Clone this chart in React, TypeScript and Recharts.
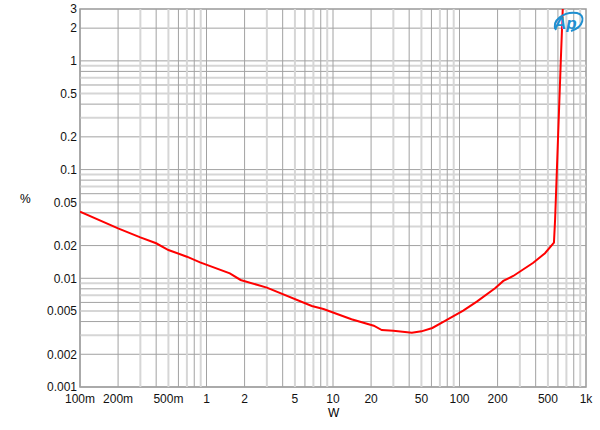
import { Line, LineChart, ReferenceArea, ReferenceLine, XAxis, YAxis } from "recharts";

// output power (W) vs THD+N (%)
const power = [
  0.1, 0.2, 0.3, 0.4, 0.5, 0.7, 0.89, 1.53, 1.86, 3, 6.8, 8.4, 14, 21, 24.3, 30, 42, 50, 61, 75, 107,
  137, 191, 222, 266, 383, 474, 558, 570, 632, 655,
];
const thd = [
  0.041, 0.0288, 0.0238, 0.021, 0.0182, 0.0158, 0.014, 0.0111, 0.00965, 0.0082, 0.00556, 0.00522,
  0.0042, 0.00366, 0.00334, 0.0033, 0.00316, 0.00325, 0.00349, 0.00399, 0.00504, 0.0061, 0.0081,
  0.00945, 0.0105, 0.0139, 0.017, 0.0213, 0.035, 1, 3,
];

const xTicks = [0.1, 0.2, 0.5, 1, 2, 5, 10, 20, 50, 100, 200, 500, 1000];
const yTicks = [0.001, 0.002, 0.005, 0.01, 0.02, 0.05, 0.1, 0.2, 0.5, 1, 2, 3];

const xDecades = [0.1, 1, 10, 100];
const yDecades = [0.001, 0.01, 0.1];
const multiples = [1, 2, 3, 4, 5, 6, 7, 8, 9];

const data = power.map((w, i) => ({ w, thd: thd[i] }));

const round = (v: number) => Number(v.toPrecision(3));
const xGrid = xDecades.flatMap((d) => multiples.map((m) => ({ v: round(d * m), m })));
const yGrid = [
  ...yDecades.flatMap((d) => multiples.map((m) => ({ v: round(d * m), m }))),
  { v: 1, m: 1 },
  { v: 2, m: 2 },
];

const dark = "#a2a2a2";
const light = "#d6d6d6";
const lineStyle = (m: number) =>
  m % 2 === 1 && m !== 1 ? { stroke: light, strokeWidth: 2 } : { stroke: dark, strokeWidth: 1 };

const fmtX = (v: number) => (v < 1 ? `${Math.round(v * 1000)}m` : v >= 1000 ? "1k" : String(v));

const tickStyle = { fontSize: 12, fill: "#111", fontFamily: "Liberation Sans, Arial, sans-serif" };

function ApLogo() {
  return (
    <svg width={36} height={28} viewBox="0 0 36 28">
      <path d="M6 22 C 1 13, 14 3, 27 5 C 36 7, 34 19, 21 23" fill="none" stroke="#1f8fd0" strokeWidth={2} />
      <text
        x={4}
        y={21}
        fontSize={17}
        fontStyle="italic"
        fontWeight="bold"
        fill="#1f8fd0"
        fontFamily="Liberation Sans, Arial, sans-serif"
      >
        Ap
      </text>
    </svg>
  );
}

export default function App() {
  return (
    <div style={{ position: "relative", width: 600, height: 430, background: "#fff" }}>
      <style>{`body{margin:0}`}</style>
      <LineChart width={600} height={430} data={data} margin={{ top: 9, right: 14, left: 0, bottom: 0 }}>
        <XAxis
          dataKey="w"
          type="number"
          scale="log"
          domain={[0.1, 1000]}
          ticks={xTicks}
          interval={0}
          tickFormatter={fmtX}
          axisLine={false}
          tickLine={false}
          tickSize={0}
          tickMargin={7}
          height={43}
          tick={tickStyle}
          allowDataOverflow
        />
        <YAxis
          type="number"
          scale="log"
          domain={[0.001, 3]}
          ticks={yTicks}
          interval={0}
          axisLine={false}
          tickLine={false}
          tickSize={0}
          tickMargin={3}
          width={80}
          tick={tickStyle}
          allowDataOverflow
        />
        {yGrid.map((g) => (
          <ReferenceLine key={`y${g.v}`} y={g.v} {...lineStyle(g.m)} />
        ))}
        {xGrid.map((g) => (
          <ReferenceLine key={`x${g.v}`} x={g.v} {...lineStyle(g.m)} />
        ))}
        <ReferenceArea x1={0.1} x2={1000} y1={0.001} y2={3} fill="none" stroke="#999" strokeWidth={1.5} />
        <Line
          type="linear"
          dataKey="thd"
          stroke="#ff0000"
          strokeWidth={2}
          dot={false}
          isAnimationActive={false}
        />
      </LineChart>
      <div style={{ position: "absolute", left: 20, top: 192, fontSize: 12, fontFamily: "Liberation Sans, Arial, sans-serif" }}>
        %
      </div>
      <div style={{ position: "absolute", left: 328, top: 406, fontSize: 12, fontFamily: "Liberation Sans, Arial, sans-serif" }}>
        W
      </div>
      <div style={{ position: "absolute", left: 550, top: 8 }}>
        <ApLogo />
      </div>
    </div>
  );
}
